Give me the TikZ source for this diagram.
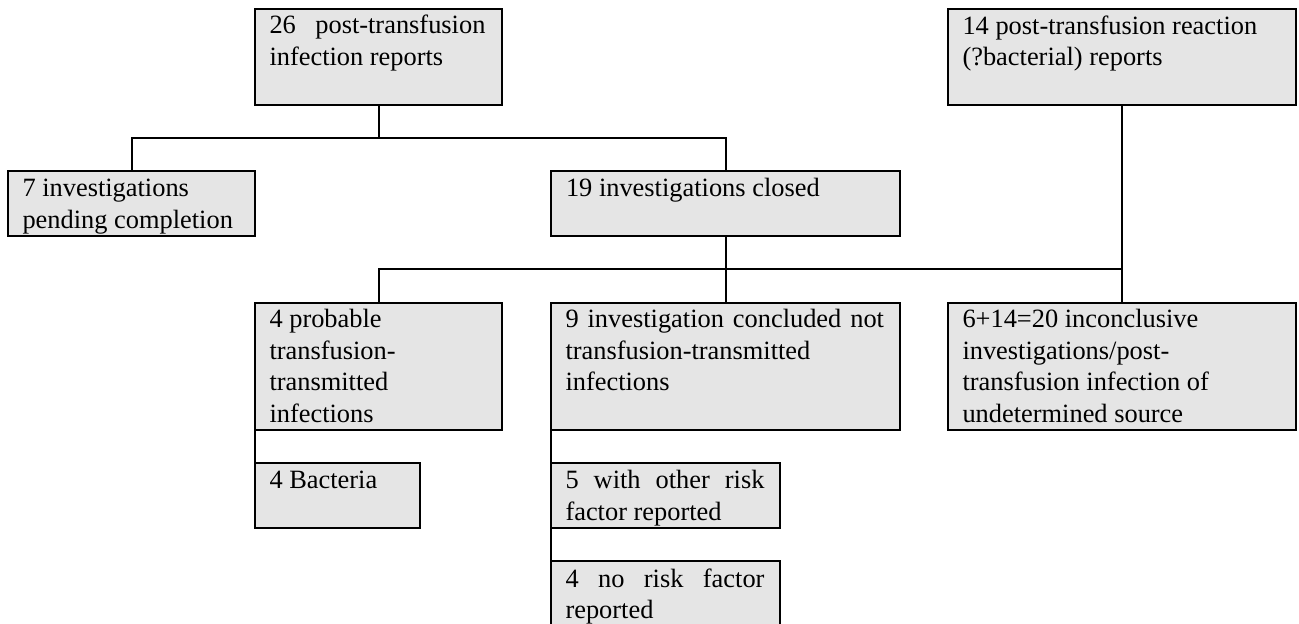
\documentclass[tikz,border=0pt]{standalone}
\usepackage{fontspec}
\setmainfont{Liberation Serif}
\definecolor{boxgray}{RGB}{229,229,229}
\begin{document}
\begin{tikzpicture}[x=1pt,y=-1pt,
  box/.style={draw=black, line width=2pt, fill=boxgray, inner sep=0pt, outer sep=0pt, anchor=north west},
  txt/.style={anchor=base west, inner sep=0pt, outer sep=0pt, align=left, font=\fontsize{26.4}{31.5}\selectfont},
  conn/.style={draw=black, line width=2pt}]
\useasboundingbox (0,0) rectangle (1299,624);
% boxes
\node[box, minimum width=247pt, minimum height=96pt]  (A)   at (255,9)   {};
\node[box, minimum width=247pt, minimum height=65pt]  (B)   at (8,171)   {};
\node[box, minimum width=349pt, minimum height=65pt]  (C)   at (551,171) {};
\node[box, minimum width=348pt, minimum height=96pt]  (D)   at (948,9)   {};
\node[box, minimum width=247pt, minimum height=127pt] (E)   at (255,303) {};
\node[box, minimum width=349pt, minimum height=127pt] (F)   at (551,303) {};
\node[box, minimum width=348pt, minimum height=127pt] (G)   at (948,303) {};
\node[box, minimum width=165pt, minimum height=65pt]  (Bac) at (255,463) {};
\node[box, minimum width=229pt, minimum height=65pt]  (R1)  at (551,463) {};
\node[box, minimum width=229pt, minimum height=72pt]  (R2)  at (551,561) {};
% texts (anchor = baseline of the last line)
\node[txt] (tA)   at (269.5,65)    {\makebox[216pt][s]{26 post-transfusion}\\infection reports};
\node[txt] (tB)   at (22.5,228)    {7 investigations\\pending completion};
\node[txt] (tC)   at (566,196.5)   {19 investigations closed};
\node[txt] (tD)   at (962.5,65.5)  {14 post-transfusion reaction\\(?bacterial) reports};
\node[txt] (tE)   at (269.5,422)   {4 probable\\transfusion-\\transmitted\\infections};
\node[txt] (tF)   at (565.5,390.5) {\makebox[318.5pt][s]{9 investigation concluded not}\\transfusion-transmitted\\infections};
\node[txt] (tG)   at (962.5,422)   {6+14=20 inconclusive\\investigations/post-\\transfusion infection of\\undetermined source};
\node[txt] (tBac) at (269.5,488.5) {4 Bacteria};
\node[txt] (tR1)  at (565.5,520)   {\makebox[199pt][s]{5 with other risk}\\factor reported};
\node[txt] (tR2)  at (565.5,618.5) {\makebox[199pt][s]{4 no risk factor}\\reported};
% junctions
\coordinate (j1) at (378.5,138);
\coordinate (j2) at (1122,269);
% connectors
\draw[conn] (A.south) -- (j1) -| (B.north);
\draw[conn] (j1) -| (C.north);
\draw[conn] (C.south) -- (F.north);
\draw[conn] (D.south) -- (G.north);
\draw[conn] (E.north) |- (j2);
\draw[conn] (E.south west) -- (Bac.north west);
\draw[conn] (F.south west) -- (R1.north west);
\draw[conn] (R1.south west) -- (R2.north west);
\end{tikzpicture}
\end{document}
